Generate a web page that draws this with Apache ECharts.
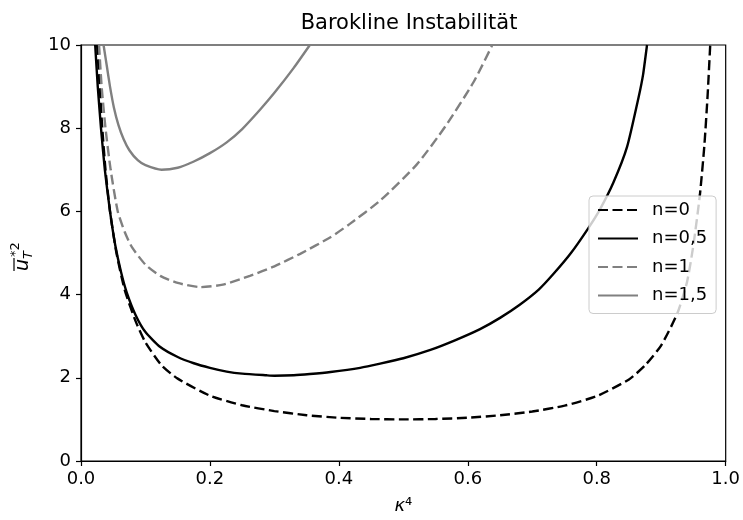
<!DOCTYPE html>
<html>
<head>
<meta charset="utf-8">
<script src="https://cdn.jsdelivr.net/npm/echarts@6/dist/echarts.min.js"></script>
<style>
  html, body { margin: 0; padding: 0; background: #fff; }
  #chart { width: 743px; height: 520px; }
</style>
</head>
<body>
<div id="chart"></div>
<script>
// Barokline Instabilität - Kurven, [kappa^4, u^2]
const xTicks = [0, 0.2, 0.4, 0.6, 0.8, 1.0];
const yTicks = [0, 2, 4, 6, 8, 10];
const seriesNames = ['n=0', 'n=0,5', 'n=1', 'n=1,5'];

const curveN0 = [
    [0.025, 10], [0.029, 9], [0.033, 8], [0.038, 7], [0.045, 6], [0.055, 5], [0.068, 4.1],
    [0.085, 3.35], [0.1, 2.85], [0.125, 2.3], [0.15, 1.98], [0.2, 1.57], [0.25, 1.34],
    [0.3, 1.2], [0.35, 1.1], [0.4, 1.04], [0.45, 1.01], [0.5, 1.0], [0.55, 1.01],
    [0.6, 1.04], [0.65, 1.1], [0.7, 1.19], [0.75, 1.33], [0.8, 1.56], [0.85, 1.96],
    [0.875, 2.3], [0.9, 2.78], [0.925, 3.55], [0.94, 4.3], [0.95, 5.2], [0.96, 6.4],
    [0.967, 7.6], [0.972, 8.8], [0.976, 10]
];
const curveN05 = [
    [0.022, 10], [0.026, 9], [0.031, 8], [0.037, 7], [0.045, 6], [0.053, 5.2], [0.062, 4.55],
    [0.071, 4.05], [0.085, 3.5], [0.1, 3.1], [0.123, 2.74], [0.15, 2.5], [0.175, 2.35],
    [0.2, 2.24], [0.226, 2.15], [0.25, 2.1], [0.288, 2.06], [0.3, 2.05], [0.33, 2.06],
    [0.355, 2.09], [0.387, 2.14], [0.433, 2.24], [0.464, 2.34], [0.5, 2.47], [0.542, 2.67],
    [0.58, 2.9], [0.619, 3.17], [0.65, 3.44], [0.68, 3.75], [0.71, 4.12], [0.733, 4.5],
    [0.76, 5.0], [0.787, 5.6], [0.805, 6.05], [0.826, 6.7], [0.847, 7.55], [0.865, 8.75],
    [0.872, 9.3], [0.878, 10]
];
const curveN1 = [
    [0.028, 10], [0.032, 9], [0.038, 8], [0.046, 7], [0.057, 6], [0.068, 5.5], [0.079, 5.14],
    [0.1, 4.72], [0.123, 4.45], [0.15, 4.28], [0.185, 4.18], [0.22, 4.24], [0.262, 4.45],
    [0.3, 4.68], [0.34, 4.98], [0.387, 5.38], [0.417, 5.7], [0.464, 6.26], [0.521, 7.13],
    [0.565, 8.04], [0.609, 9.11], [0.638, 10]
];
const curveN15 = [
    [0.035, 10], [0.04, 9.5], [0.045, 9.0], [0.051, 8.5], [0.058, 8.08], [0.066, 7.74],
    [0.075, 7.47], [0.088, 7.23], [0.1, 7.11], [0.125, 7.0], [0.15, 7.05], [0.175, 7.2],
    [0.2, 7.4], [0.226, 7.66], [0.25, 7.98], [0.278, 8.45], [0.3, 8.85], [0.33, 9.45],
    [0.355, 10]
];

const FONT = 'DejaVu Sans';
const chart = echarts.init(document.getElementById('chart'), null, { renderer: 'canvas' });

const dash = [10, 4.5];
const mkLine = (name, data, color, type) => ({
    name, type: 'line', data, symbol: 'none', smooth: 0.2, clip: true,
    lineStyle: { color, width: 2.4, type },
    itemStyle: { color }
});

chart.setOption({
    animation: false,
    backgroundColor: '#fff',
    title: {
        text: 'Barokline Instabilität', left: 404, top: 8, textAlign: 'center',
        textStyle: { fontFamily: FONT, fontSize: 21, fontWeight: 'normal', color: '#000' }
    },
    grid: { left: 81, right: 15, top: 45, bottom: 54, show: true, borderColor: '#000', borderWidth: 1.2, backgroundColor: 'transparent' },
    legend: {
        data: seriesNames, orient: 'vertical', left: 589, top: 196,
        itemWidth: 40, itemHeight: 14, itemGap: 10.5,
        padding: [5, 9, 9, 8],
        itemStyle: { opacity: 0 },
        backgroundColor: 'rgba(255,255,255,0.8)', borderColor: '#cccccc', borderWidth: 1, borderRadius: 4,
        textStyle: { fontFamily: FONT, fontSize: 18, color: '#000', lineHeight: 18, padding: [0, 0, 0, 9] }
    },
    xAxis: {
        type: 'value', min: 0, max: 1, interval: 0.2,
        name: '{k|κ}{s|⁴}', nameLocation: 'middle', nameGap: 36,
        nameTextStyle: { rich: { k: { fontFamily: FONT, fontSize: 18, fontStyle: 'italic', color: '#000' }, s: { fontFamily: FONT, fontSize: 18, color: '#000' } } },
        axisLine: { lineStyle: { color: '#000', width: 1.2 } },
        axisTick: { show: true, length: 5, lineStyle: { color: '#000', width: 1.2 } },
        axisLabel: { fontFamily: FONT, fontSize: 18, color: '#000', margin: 9, formatter: v => v.toFixed(1) },
        splitLine: { show: false }
    },
    yAxis: {
        type: 'value', min: 0, max: 10, interval: 2,
        axisLine: { show: true, lineStyle: { color: '#000', width: 1.2 } },
        axisTick: { show: true, length: 5, lineStyle: { color: '#000', width: 1.2 } },
        axisLabel: { fontFamily: FONT, fontSize: 18, color: '#000', margin: 10 },
        splitLine: { show: false }
    },
    graphic: [{
        type: 'group', x: 23, y: 271, rotation: Math.PI / 2,
        children: [
            { type: 'line', shape: { x1: 0, y1: -9, x2: 13, y2: -9 }, style: { stroke: '#000', lineWidth: 1.2 } },
            { type: 'text', x: 0, y: 0, style: { text: 'u', fontFamily: FONT, fontSize: 19, fontStyle: 'italic', fill: '#000', verticalAlign: 'middle' } },
            { type: 'text', x: 12, y: 6, style: { text: 'T', fontFamily: FONT, fontSize: 13, fontStyle: 'italic', fill: '#000', verticalAlign: 'middle' } },
            { type: 'text', x: 14, y: -7, style: { text: '*2', fontFamily: FONT, fontSize: 13, fill: '#000', verticalAlign: 'middle' } }
        ]
    }],
    series: [
        mkLine(seriesNames[0], curveN0, '#000000', dash),
        mkLine(seriesNames[1], curveN05, '#000000', 'solid'),
        mkLine(seriesNames[2], curveN1, '#808080', dash),
        mkLine(seriesNames[3], curveN15, '#808080', 'solid')
    ]
});
</script>
</body>
</html>
